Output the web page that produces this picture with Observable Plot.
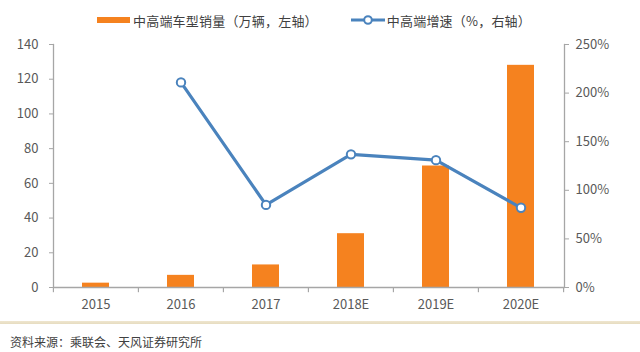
<!DOCTYPE html>
<html>
<head>
<meta charset="utf-8">
<script src="https://cdn.jsdelivr.net/npm/d3@7"></script>
<script src="https://cdn.jsdelivr.net/npm/@observablehq/plot@0.6"></script>
<style>
  html, body { margin: 0; padding: 0; background: #fff; }
  #wrap { position: relative; width: 640px; height: 352px; overflow: hidden; font-family: "Noto Sans CJK SC", "Noto Sans", sans-serif; }
  #legend { position: absolute; top: 10px; left: 97px; height: 20px; display: flex; align-items: center; font-size: 13px; color: #404040; white-space: nowrap; letter-spacing: 0.2px; }
  .sw-bar { display: inline-block; width: 33px; height: 6px; background: #F5821F; margin-right: 3px; }
  .sw-line { display: inline-block; width: 34px; height: 12px; margin-left: 33px; margin-right: 2px; }
  #sep { position: absolute; left: 0; top: 321px; width: 640px; height: 3px; background: linear-gradient(#efe6cf, #e6dcc0); }
  #source { position: absolute; left: 10px; top: 333px; font-size: 12px; color: #404040; }
  #chart { position: absolute; left: 0; top: 0; }
</style>
</head>
<body>
<div id="wrap">
  <div id="chart"></div>
  <div id="legend"></div>
  <div id="sep"></div>
  <div id="source"></div>
</div>
<script>
const years = ["2015", "2016", "2017", "2018E", "2019E", "2020E"];
const sales = [2.5, 7, 13, 31, 70, 128];          // 万辆, left axis
const growth = [null, 211, 85, 137, 131, 82];       // %, right axis
const leftTicks = [0, 20, 40, 60, 80, 100, 120, 140];
const rightTicks = [0, 50, 100, 150, 200, 250];
const barLabel = "中高端车型销量（万辆，左轴）";
const lineLabel = "中高端增速（%，右轴）";
const sourceText = "资料来源：乘联会、天风证券研究所";

const yMax = 140, rMax = 250;
const toLeft = v => v * yMax / rMax;

const W = 640, H = 352;
const mL = 53, mR = 76, mT = 44, mB = 65;
const step = (W - mL - mR) / years.length;

const rows = years.map((y, i) => ({year: y, sales: sales[i], growth: growth[i]}));
const lineRows = rows.filter(d => d.growth != null);

const BLUE = "#4A83BD";
const ORANGE = "#F5821F";
const AXIS = "#A6A6A6";
const LABEL = "#595959";

const chart = Plot.plot({
  width: W, height: H,
  marginLeft: mL, marginRight: mR, marginTop: mT, marginBottom: mB,
  style: {fontFamily: '"Noto Sans CJK SC", "Noto Sans", sans-serif', fontSize: "13px", background: "transparent", overflow: "visible"},
  x: {domain: years, paddingInner: 0.68, paddingOuter: 0.34},
  y: {domain: [0, yMax]},
  marks: [
    Plot.barY(rows, {x: "year", y: "sales", fill: ORANGE}),
    // axis lines
    Plot.frame({anchor: "left", stroke: AXIS, strokeWidth: 1.3}),
    Plot.frame({anchor: "right", stroke: AXIS, strokeWidth: 1.3}),
    Plot.ruleY([0], {stroke: AXIS, strokeWidth: 1.5}),
    // x boundary ticks
    Plot.ruleX(years, {x: d => d, dx: -step / 2, y1: 0, y2: -3, stroke: AXIS, strokeWidth: 1.2}),
    Plot.ruleX(years.slice(-1), {x: d => d, dx: step / 2, y1: 0, y2: -3, stroke: AXIS, strokeWidth: 1.2}),
    Plot.axisX({tickSize: 0, tickPadding: 12, label: null, fill: LABEL, fontSize: 13}),
    Plot.axisY({ticks: leftTicks, tickSize: 4, tickPadding: 11, stroke: AXIS, label: null, fill: LABEL, fontSize: 13}),
    Plot.axisY({anchor: "right", ticks: rightTicks.map(toLeft), tickFormat: d => Math.round(d * rMax / yMax) + "%", tickSize: 4, tickPadding: 7, stroke: AXIS, label: null, fill: LABEL, fontSize: 13}),
    Plot.line(lineRows, {x: "year", y: d => toLeft(d.growth), stroke: BLUE, strokeWidth: 3.2}),
    Plot.dot(lineRows, {x: "year", y: d => toLeft(d.growth), r: 4.2, fill: "white", stroke: BLUE, strokeWidth: 2})
  ]
});
document.getElementById("chart").appendChild(chart);

// legend
const lg = document.getElementById("legend");
lg.innerHTML =
  `<span class="sw-bar"></span><span>${barLabel}</span>` +
  `<svg class="sw-line" viewBox="0 0 34 12"><line x1="0" y1="6" x2="34" y2="6" stroke="${BLUE}" stroke-width="3"/><circle cx="17" cy="6" r="3.8" fill="white" stroke="${BLUE}" stroke-width="2"/></svg>` +
  `<span>${lineLabel}</span>`;
document.getElementById("source").textContent = sourceText;
</script>
</body>
</html>
